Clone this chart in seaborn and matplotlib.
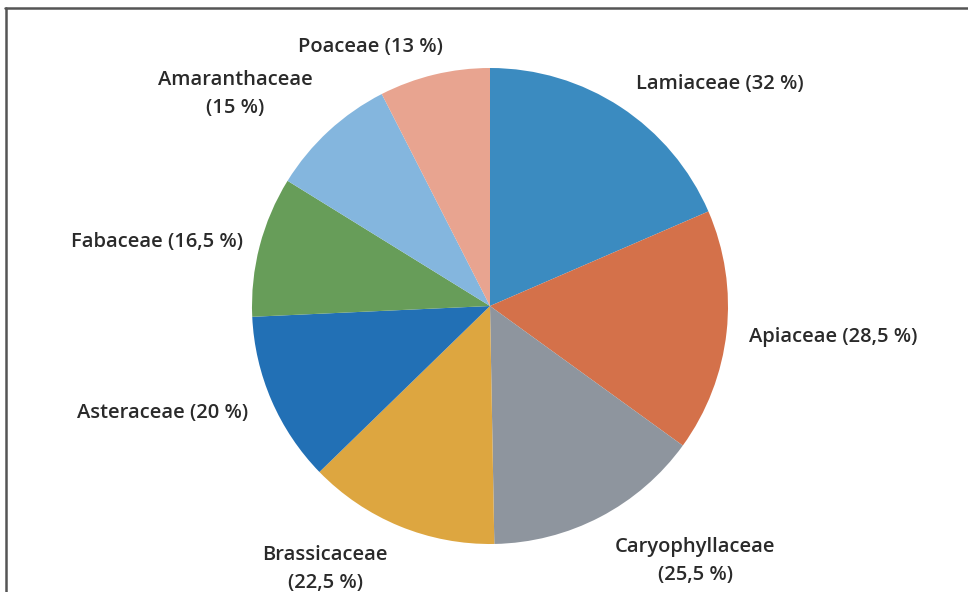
import matplotlib
matplotlib.use("Agg")
import matplotlib.pyplot as plt
import seaborn as sns

sns.set_theme(style="white")
plt.rcParams['font.family'] = ['Open Sans', 'DejaVu Sans']

families = ["Lamiaceae", "Apiaceae", "Caryophyllaceae", "Brassicaceae",
            "Asteraceae", "Fabaceae", "Amaranthaceae", "Poaceae"]
values = [32, 28.5, 25.5, 22.5, 20, 16.5, 15, 13]
value_text = ["32", "28,5", "25,5", "22,5", "20", "16,5", "15", "13"]
two_line = [False, False, True, True, False, False, True, False]
colors = ["#3B8BC0", "#D4714A", "#8E959E", "#DDA640",
          "#2270B5", "#679D59", "#84B6DE", "#E8A490"]

W, H = 968, 592
fig = plt.figure(figsize=(W / 100, H / 100), dpi=100)
ax = fig.add_axes([0, 0, 1, 1])

cx, cy, r = 490, H - 306, 238
ax.pie(values, colors=colors, startangle=90, counterclock=False,
       center=(cx, cy), radius=r, frame=True,
       wedgeprops=dict(linewidth=0))
ax.set_xlim(0, W)
ax.set_ylim(0, H)
ax.set_aspect("equal")
ax.axis("off")

# label positions (pixel coords, top-origin)
label_pos = [(720, 84), (833, 337), (695, 561), (325, 569),
             (163, 413), (157, 242), (235, 94), (370, 47)]
for name, vt, tl, (lx, ly) in zip(families, value_text, two_line, label_pos):
    sep = "\n" if tl else " "
    ax.text(lx, H - ly, f"{name}{sep}({vt} %)", ha="center", va="center",
            fontsize=14.5, fontweight="semibold", color="#2a2a2a",
            linespacing=1.55)

# frame lines (top and left)
fig.add_artist(plt.Line2D([5 / W, 1], [1 - 7.5 / H, 1 - 7.5 / H],
                          transform=fig.transFigure, color="#555555", lw=1.8))
fig.add_artist(plt.Line2D([5.5 / W, 5.5 / W], [0, 1 - 7.5 / H],
                          transform=fig.transFigure, color="#555555", lw=1.8))

fig.savefig("out.png", dpi=100, facecolor="white")
